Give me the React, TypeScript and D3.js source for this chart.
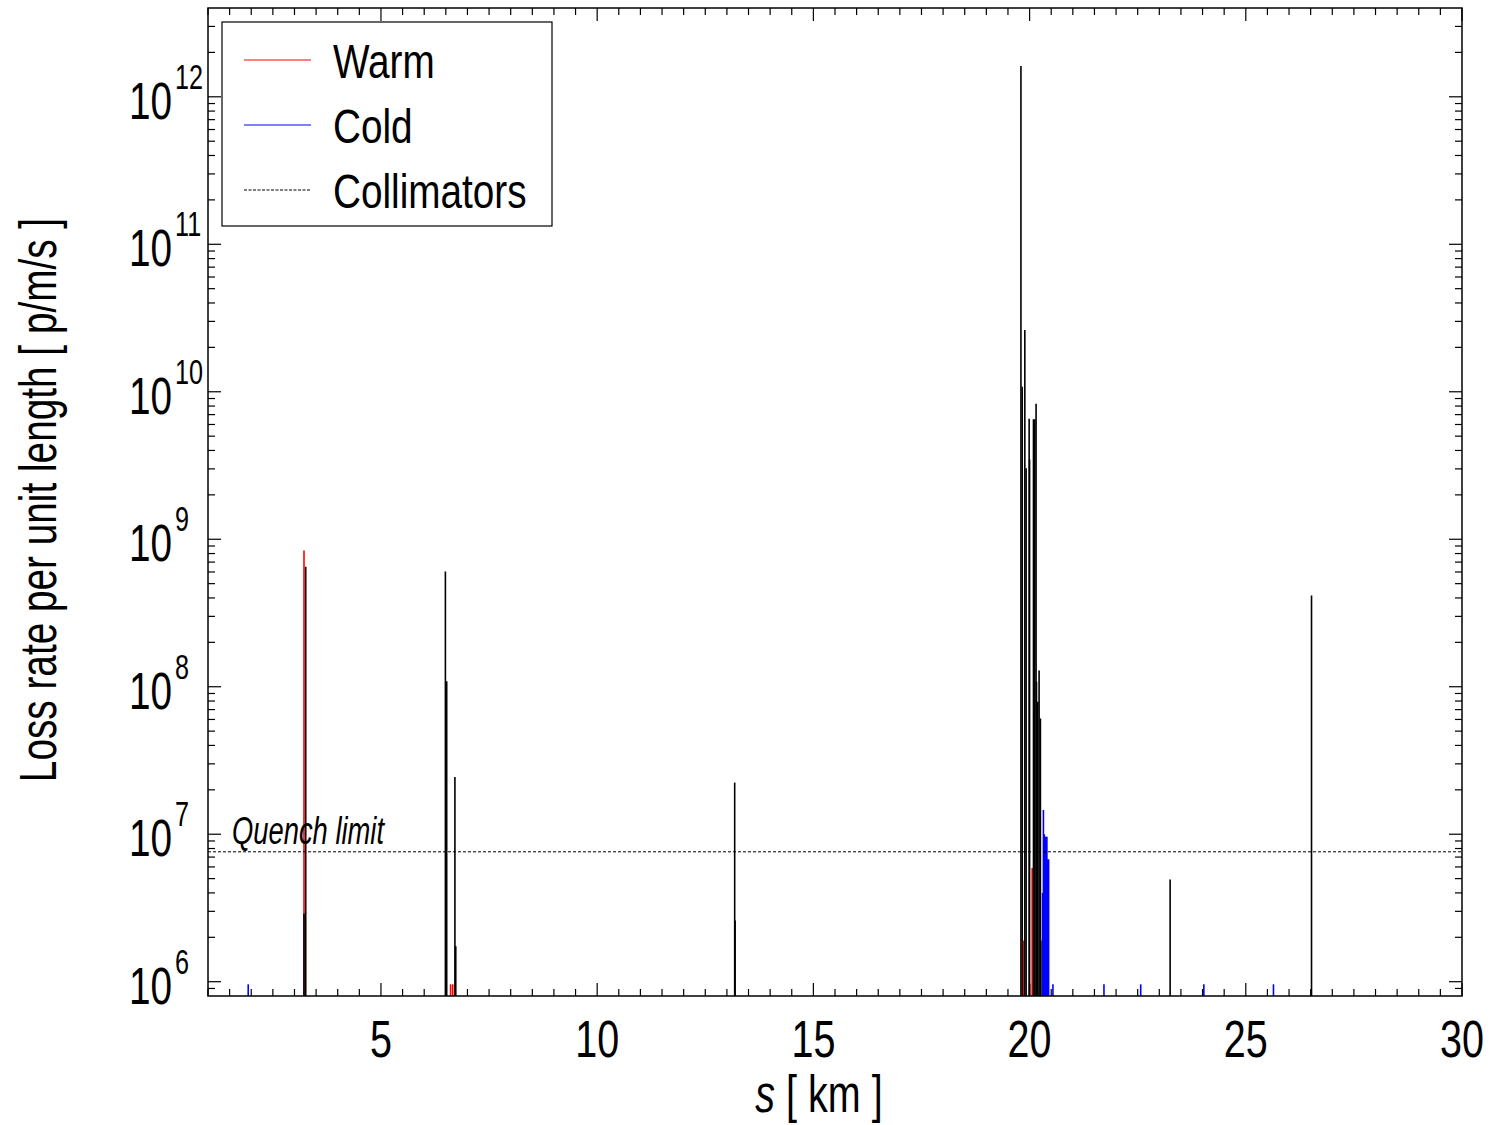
import * as d3 from 'd3';

// loss positions s [km] and loss rates [p/m/s]
const warmS = [3.22, 6.61, 6.66, 19.86, 20.0, 20.06];
const warmV = [8.4e8, 9.6e5, 9.6e5, 1.9e6, 9.6e5, 5.9e6];

const coldS = [1.93, 20.3, 20.32, 20.34, 20.36, 20.38, 20.4, 20.42, 20.44, 20.54, 21.72, 22.57, 24.03, 25.64];
const coldV = [9.6e5, 4.0e6, 1.46e7, 1.0e7, 9.6e6, 9.6e6, 9.6e6, 6.75e6, 6.75e6, 9.6e5, 9.6e5, 9.6e5, 9.6e5, 9.6e5];

const collS = [
  3.26, 3.22, 6.49, 6.52, 6.71, 6.73, 13.18, 13.19, 19.8, 19.83, 19.89, 19.92, 19.99, 20.0, 20.09,
  20.1, 20.12, 20.15, 20.16, 20.19, 20.22, 20.25, 20.26, 23.25, 26.52,
];
const collV = [
  6.5e8, 2.9e6, 6.05e8, 1.09e8, 2.44e7, 1.74e6, 2.24e7, 2.6e6, 1.62e12, 1.08e10, 2.62e10, 3.03e9, 6.55e9,
  3.47e9, 6.5e9, 6.4e9, 6.5e9, 8.28e9, 1.08e8, 7.9e7, 1.29e8, 6.1e7, 1.9e6, 4.93e6, 4.16e8,
];

const QUENCH = 7.6e6;
const X_TICKS = [5, 10, 15, 20, 25, 30];
const Y_EXP = [6, 7, 8, 9, 10, 11, 12];
const LEGEND = [
  { label: 'Warm', color: '#ff0000', dash: '' },
  { label: 'Cold', color: '#0000ff', dash: '' },
  { label: 'Collimators', color: '#000000', dash: '3 1.5' },
];

const FONT = "'Liberation Sans', Arial, Helvetica, sans-serif";
const SX = 0.76;

function Label({ x, y, size, anchor = 'start', italic = false, rotate = 0, sx = SX, children }: any) {
  return (
    <text
      transform={`translate(${x},${y})${rotate ? ` rotate(${rotate})` : ''} scale(${sx},1)`}
      fontSize={size}
      fontFamily={FONT}
      fontStyle={italic ? 'italic' : 'normal'}
      textAnchor={anchor}
      fill='#000'
    >
      {children}
    </text>
  );
}

export default function App() {
  const width = 1490;
  const height = 1125;
  const left = 208;
  const right = 1462;
  const top = 8;
  const bottom = 996;

  const x = d3.scaleLinear().domain([1, 30]).range([left, right]);
  const y = d3.scaleLog().domain([8e5, 4e12]).range([bottom, top]);

  const minorX = d3.range(1, 30.001, 0.5).filter((v) => Math.abs(v % 5) > 1e-6);
  const minorY: number[] = [];
  for (let e = 5; e <= 12; e++) {
    for (let m = 2; m <= 9; m++) {
      const v = m * Math.pow(10, e);
      if (v > 8e5 && v < 4e12) minorY.push(v);
    }
  }

  const bars = (s: number[], v: number[], color: string, key: string) =>
    s.map((d, i) => (
      <line
        key={`${key}${i}`}
        x1={x(d)}
        x2={x(d)}
        y1={bottom}
        y2={y(v[i])}
        stroke={color}
        strokeWidth={1.6}
      />
    ));

  return (
    <div style={{ position: 'absolute', left: 0, top: 0 }}>
      <svg width={width} height={height} style={{ display: 'block', background: '#fff' }}>
        {bars(warmS, warmV, '#ff0000', 'w')}
        {bars(coldS, coldV, '#0000ff', 'c')}
        {bars(collS, collV, '#000000', 'k')}

        {/* quench limit */}
        <line
          x1={left}
          x2={right}
          y1={y(QUENCH)}
          y2={y(QUENCH)}
          stroke='#000'
          strokeWidth={1}
          strokeDasharray='3 2'
        />
        <Label x={232} y={y(QUENCH) - 8} size={38} sx={0.72} italic>
          Quench limit
        </Label>

        {/* x ticks, bottom and top */}
        {minorX.map((t) => (
          <g key={`mx${t}`}>
            <line x1={x(t)} x2={x(t)} y1={bottom} y2={bottom - 7} stroke='#000' strokeWidth={1.2} />
            <line x1={x(t)} x2={x(t)} y1={top} y2={top + 7} stroke='#000' strokeWidth={1.2} />
          </g>
        ))}
        {X_TICKS.map((t) => (
          <g key={`x${t}`}>
            <line x1={x(t)} x2={x(t)} y1={bottom} y2={bottom - 13} stroke='#000' strokeWidth={1.2} />
            <line x1={x(t)} x2={x(t)} y1={top} y2={top + 13} stroke='#000' strokeWidth={1.2} />
            <Label x={x(t)} y={1057} size={52} anchor='middle'>
              {t}
            </Label>
          </g>
        ))}

        {/* y ticks, left and right */}
        {minorY.map((t) => (
          <g key={`my${t}`}>
            <line x1={left} x2={left + 7} y1={y(t)} y2={y(t)} stroke='#000' strokeWidth={1.2} />
            <line x1={right} x2={right - 7} y1={y(t)} y2={y(t)} stroke='#000' strokeWidth={1.2} />
          </g>
        ))}
        {Y_EXP.map((e) => {
          const ty = y(Math.pow(10, e));
          return (
            <g key={`y${e}`}>
              <line x1={left} x2={left + 13} y1={ty} y2={ty} stroke='#000' strokeWidth={1.2} />
              <line x1={right} x2={right - 13} y1={ty} y2={ty} stroke='#000' strokeWidth={1.2} />
              <Label x={172} y={ty + 22} size={51} anchor='end'>
                10
              </Label>
              <Label x={175} y={ty - 8} size={35} sx={0.72}>
                {e}
              </Label>
            </g>
          );
        })}

        {/* frame */}
        <rect
          x={left}
          y={top}
          width={right - left}
          height={bottom - top}
          fill='none'
          stroke='#000'
          strokeWidth={1.5}
        />

        {/* axis titles */}
        <text
          transform={`translate(819,1112) scale(${SX},1)`}
          fontSize={52}
          fontFamily={FONT}
          textAnchor='middle'
        >
          <tspan fontStyle='italic'>s</tspan>
          <tspan> [ km ]</tspan>
        </text>
        <Label x={56} y={500} size={51} anchor='middle' rotate={-90}>
          Loss rate per unit length [ p/m/s ]
        </Label>

        {/* legend */}
        <rect x={222} y={22} width={330} height={204} fill='#fff' stroke='#000' strokeWidth={1.2} />
        {LEGEND.map((l, i) => {
          const ly = 60 + i * 65;
          return (
            <g key={l.label}>
              <line
                x1={244}
                x2={311}
                y1={ly}
                y2={ly}
                stroke={l.color}
                strokeWidth={1.2}
                strokeDasharray={l.dash}
              />
              <Label x={333} y={ly + 18} size={49} sx={0.79}>
                {l.label}
              </Label>
            </g>
          );
        })}
      </svg>
    </div>
  );
}
